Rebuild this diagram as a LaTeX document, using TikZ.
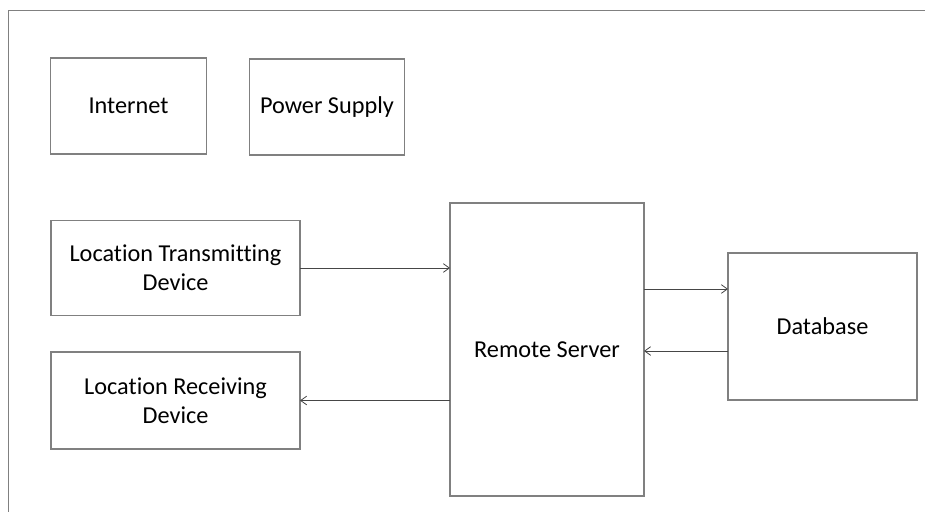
\documentclass[tikz,border=0pt]{standalone}
\usepackage{fontspec}
\setmainfont{Carlito}[Ligatures=CommonOff]
\usepackage{tikz}
\usetikzlibrary{arrows.meta}
\newcommand*\linew{0.9pt}
\definecolor{framegray}{RGB}{128,128,128}
\definecolor{arrowgray}{RGB}{70,70,70}
\tikzset{
    block/.style     = {draw=framegray, line width=\linew, align=center,
                       inner sep=0pt, outer sep=0pt, text=black,
                       font=\fontsize{18.2}{21.8}\selectfont},
    smallblock/.style = {block, minimum width=116.5pt, minimum height=72pt},
    wideblock/.style  = {block, minimum width=186.75pt, minimum height=71.5pt},
    serverblock/.style= {block, minimum width=145.5pt, minimum height=219.75pt},
    dbblock/.style    = {block, minimum width=141.75pt, minimum height=110.25pt},
    link/.style      = {draw=arrowgray, line width=0.6pt,
                       -{Straight Barb[length=4.5pt,width=6.5pt]}},
  }

\begin{document}
\begin{tikzpicture}[x=0.75pt,y=-0.75pt]
        % page size, fixed
        \useasboundingbox (0,0) rectangle (925,512);

        % Outer frame: open on the right and bottom
        \draw[framegray, line width=\linew] (925,10.5) -- (8.5,10.5) -- (8.5,512);

        % Top row
        \node[smallblock] (internet) at (128.5,106) {Internet};
        \node[smallblock] (power)    at (327,107)   {Power Supply};

        % Left column
        \node[wideblock] (transmit) at (175.5,268)   {Location Transmitting\\Device};
        \node[wideblock, minimum height=72.75pt] (receive) at (175.5,400.5) {Location Receiving\\Device};

        % Server and database
        \node[serverblock] (server) at (547,349.5)  {Remote Server};
        \node[dbblock]     (db)     at (822.5,326.5) {Database};

        % Arrows
        \draw[link] (transmit.east) -- (transmit.east -| server.west);
        \draw[link] (server.east |- 0,289) -- (db.west |- 0,289);
        \draw[link] (db.west |- 0,351) -- (server.east |- 0,351);
        \draw[link] (server.west |- receive.east) -- (receive.east);
    \end{tikzpicture}
\end{document}
